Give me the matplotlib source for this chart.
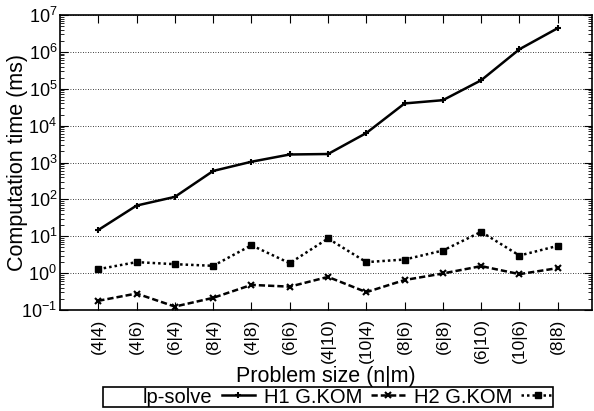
import matplotlib
matplotlib.use("Agg")
import matplotlib.pyplot as plt
from matplotlib.ticker import LogLocator, NullFormatter
from matplotlib.patches import Rectangle

plt.rcParams['font.family'] = ['Liberation Sans', 'DejaVu Sans']
plt.rcParams['mathtext.fontset'] = 'custom'
plt.rcParams['mathtext.rm'] = 'Liberation Sans'

categories = ["(4|4)", "(4|6)", "(6|4)", "(8|4)", "(4|8)", "(6|6)", "(4|10)",
              "(10|4)", "(8|6)", "(6|8)", "(6|10)", "(10|6)", "(8|8)"]
lp_solve = [14.8, 68, 117, 590, 1050, 1650, 1700, 6300, 40000, 49000, 170000, 1.18e6, 4.4e6]
h1_gkom = [0.178, 0.28, 0.124, 0.214, 0.48, 0.43, 0.79, 0.305, 0.65, 0.98, 1.55, 0.94, 1.37]
h2_gkom = [1.28, 1.99, 1.75, 1.58, 5.7, 1.86, 8.7, 1.99, 2.34, 4.1, 13.2, 3.0, 5.5]

fig = plt.figure(figsize=(5.94, 4.11), dpi=100)
ax = fig.add_axes([0.101, 0.2457, 0.896, 0.7178])

x = list(range(len(categories)))
ax.plot(x, lp_solve, color='black', lw=1.8, ls='-', marker='+', ms=5, mew=1.5, label='lp-solve')
ax.plot(x, h1_gkom, color='black', lw=1.8, ls=(0, (2.5, 1.2)), marker='x', ms=4.5, mew=1.5, label='H1 G.KOM')
ax.plot(x, h2_gkom, color='black', lw=1.8, ls=(0, (1, 1.2)), marker='s', ms=4, label='H2 G.KOM')

ax.set_yscale('log')
ax.set_ylim(0.1, 1e7)
ax.set_xlim(-1, 12.9)
ax.set_xticks(x)
ax.set_xticklabels(categories, rotation=90, fontsize=12.5)
ax.yaxis.set_major_locator(LogLocator(base=10, numticks=20))
ax.yaxis.set_minor_locator(LogLocator(base=10, subs=[2, 3, 4, 5, 6, 7, 8, 9], numticks=20))
ax.yaxis.set_minor_formatter(NullFormatter())
ax.tick_params(axis='y', which='major', labelsize=13, direction='in', length=6, right=True, pad=2)
ax.tick_params(axis='y', which='minor', direction='in', length=3, right=True)
ax.tick_params(axis='x', which='both', direction='in', length=6, top=True, pad=6)
ax.tick_params(axis='x', which='minor', bottom=False, top=False)

ax.grid(True, which='major', axis='y', color='black', ls=(0, (1, 2)), lw=0.6)
for s in ax.spines.values():
    s.set_linewidth(1.2)

ax.set_ylabel('Computation time (ms)', fontsize=15.5, va='center')
ax.yaxis.set_label_coords(-0.079, 0.5)
ax.set_xlabel('Problem size (n|m)', fontsize=15.5, labelpad=2)

leg = fig.legend(loc='center left', bbox_to_anchor=(133 / 594, 1 - 397 / 411), ncol=3,
                 markerfirst=False, fontsize=14.5, frameon=False,
                 borderpad=0.0, handlelength=1.65, columnspacing=0.45, handletextpad=0.45)
fig.add_artist(Rectangle((103 / 594, 1 - 407 / 411), 450 / 594, 20 / 411,
                         transform=fig.transFigure, fill=False, edgecolor='black', lw=1.2))

fig.savefig('out.png', dpi=100)
